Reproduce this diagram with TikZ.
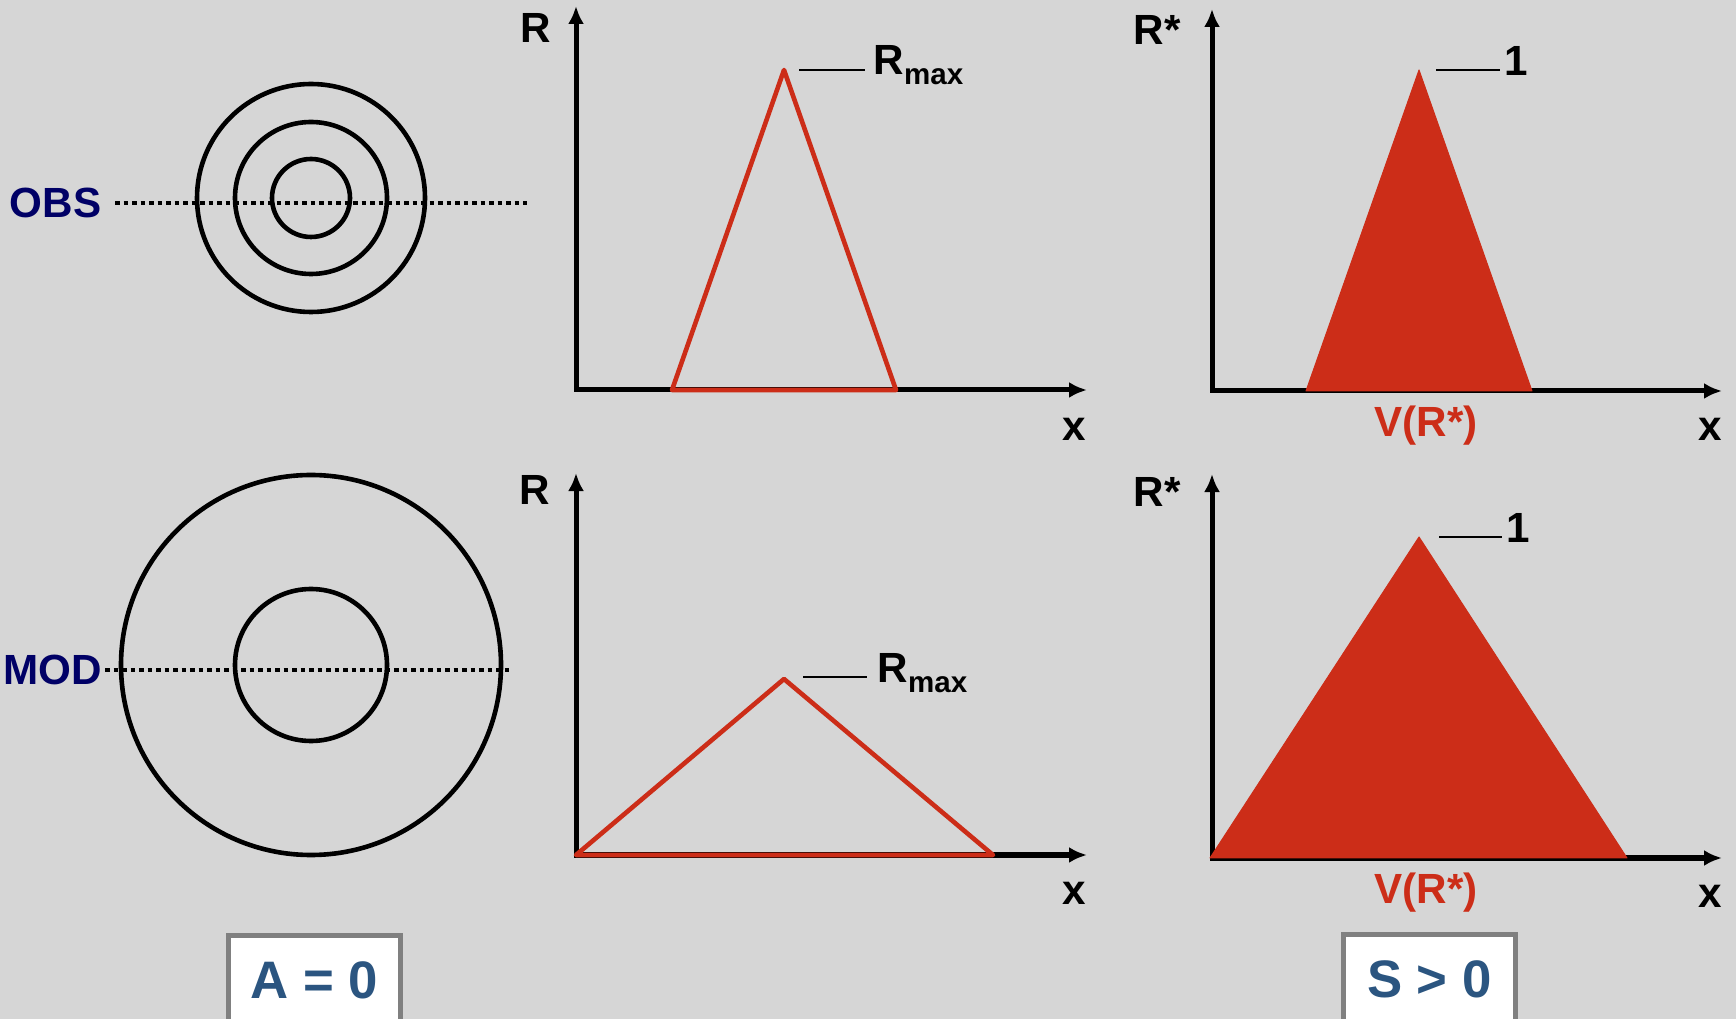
\documentclass[tikz,border=0pt]{standalone}
\usepackage{fontspec}
\setmainfont{Liberation Sans}
\usepackage{tikz}
\usetikzlibrary{
  arrows.meta,%
  positioning,%
  calc
}
\definecolor{bggray}{RGB}{214,214,214}
\definecolor{peakred}{RGB}{204,45,24}
\definecolor{tagnavy}{RGB}{0,0,102}
\definecolor{boxblue}{RGB}{43,85,128}
\definecolor{boxgray}{RGB}{128,128,128}
\tikzset{>={Latex[length=0.18cm,width=0.16cm]}}
\tikzset{font=\fontsize{12}{14}\selectfont\bfseries, inner sep=0pt}
\tikzset{axisline/.style={line width=0.05cm, <->, line join=miter},
  ring/.style={line width=0.046cm},
  scanline/.style={line width=0.045cm, dash pattern=on 0.045cm off 0.04cm},
  peakline/.style={draw=peakred, line width=0.046cm, line join=round},
  peakfill/.style={fill=peakred, draw=peakred, line width=0.01cm, line join=round},
  leader/.style={line width=0.018cm},
  tag/.style={text=tagnavy},
  redlabel/.style={text=peakred},
  resultbox/.style={draw=boxgray, line width=0.05cm, fill=white, text=boxblue,
    font=\fontsize{15}{18}\selectfont\bfseries, minimum width=1.72cm,
    minimum height=0.9cm, anchor=north}}
\newcommand{\rmaxlabel}{R\raisebox{-2.8pt}{\fontsize{8.4}{10}\selectfont max}}

\begin{document}
\begin{tikzpicture}[x=0.01cm, y=-0.01cm]
  \fill[bggray] (0,0) rectangle (1736,1019); %
  \useasboundingbox (0,0) rectangle (1736,1019); %
  \clip (0,0) rectangle (1736,1019); %

  % observed rings
  \coordinate (obsc) at (311,198); %
  \draw[ring] (obsc) circle [radius=114]; %
  \draw[ring] (obsc) circle [radius=76]; %
  \draw[ring] (obsc) circle [radius=39]; %
  \coordinate (obsl) at (115,203); %
  \coordinate (obsr) at (527,203); %
  \draw[scanline] (obsl) -- (obsr); %
  \node[tag, left=0.13cm of obsl] (obs) {OBS}; %

  % modelled rings
  \coordinate (modc) at (311,665); %
  \draw[ring] (modc) circle [radius=190]; %
  \draw[ring] (modc) circle [radius=76]; %
  \coordinate (modl) at (105,670); %
  \coordinate (modr) at (509,670); %
  \draw[scanline] (modl) -- (modr); %
  \node[tag, left=0.02cm of modl] (mod) {MOD}; %

  % top middle: R along x
  \coordinate (o1) at (576,390); %
  \coordinate (y1) at (576,6); %
  \coordinate (x1) at (1087,390); %
  \draw[axisline] (y1) -- (o1) -- (x1); %
  \coordinate (a1) at (672,390); %
  \coordinate (p1) at (784,70); %
  \coordinate (b1) at (896,390); %
  \draw[peakline] (a1) -- (p1) -- (b1) -- cycle; %
  \node[anchor=base west] (rmax1) at (873,75) {\rmaxlabel}; %
  \draw[leader] ($(p1)+(15,0)$) -- ($(p1)+(81,0)$); %
  \node (rlab1) at (536,28) {R}; %
  \node (xlab1) at (1074,429) {x}; %

  % top right: R* along x
  \coordinate (o2) at (1212,391); %
  \coordinate (y2) at (1212,9); %
  \coordinate (x2) at (1722,391); %
  \draw[axisline] (y2) -- (o2) -- (x2); %
  \coordinate (a2) at (1306,391); %
  \coordinate (p2) at (1419,70); %
  \coordinate (b2) at (1532,391); %
  \filldraw[peakfill] (a2) -- (p2) -- (b2) -- cycle; %
  \node[anchor=base west] (one2) at (1504,76) {1}; %
  \draw[leader] ($(p2)+(17,0)$) -- ($(p2)+(81,0)$); %
  \node (rlab2) at (1157,30) {R*}; %
  \node[redlabel] (vol2) at (1426,426) {V(R*)}; %
  \node (xlab2) at (1710,429) {x}; %

  % bottom middle: R along x
  \coordinate (o3) at (576,855); %
  \coordinate (y3) at (576,473); %
  \coordinate (x3) at (1087,855); %
  \draw[axisline] (y3) -- (o3) -- (x3); %
  \coordinate (a3) at (576,855); %
  \coordinate (p3) at (784,679); %
  \coordinate (b3) at (993,855); %
  \draw[peakline] (a3) -- (p3) -- (b3) -- cycle; %
  \node[anchor=base west] (rmax3) at (877,683) {\rmaxlabel}; %
  \draw[leader] ($(p3)+(19,-2)$) -- ($(p3)+(83,-2)$); %
  \node (rlab3) at (535,490) {R}; %
  \node (xlab3) at (1074,893) {x}; %

  % bottom right: R* along x
  \coordinate (o4) at (1212,858); %
  \coordinate (y4) at (1212,474); %
  \coordinate (x4) at (1722,858); %
  \draw[axisline] (y4) -- (o4) -- (x4); %
  \coordinate (a4) at (1210,858); %
  \coordinate (p4) at (1419,537); %
  \coordinate (b4) at (1627,858); %
  \filldraw[peakfill] (a4) -- (p4) -- (b4) -- cycle; %
  \node[anchor=base west] (one4) at (1506,543) {1}; %
  \draw[leader] ($(p4)+(20,0)$) -- ($(p4)+(83,0)$); %
  \node (rlab4) at (1157,492) {R*}; %
  \node[redlabel] (vol4) at (1426,893) {V(R*)}; %
  \node (xlab4) at (1710,896) {x}; %

  % result boxes
  \node[resultbox] (azero) at (314.5,932.5) {A = 0}; %
  \node[resultbox] (spos) at (1429.5,931.5) {S > 0}; %
\end{tikzpicture}
\end{document}
